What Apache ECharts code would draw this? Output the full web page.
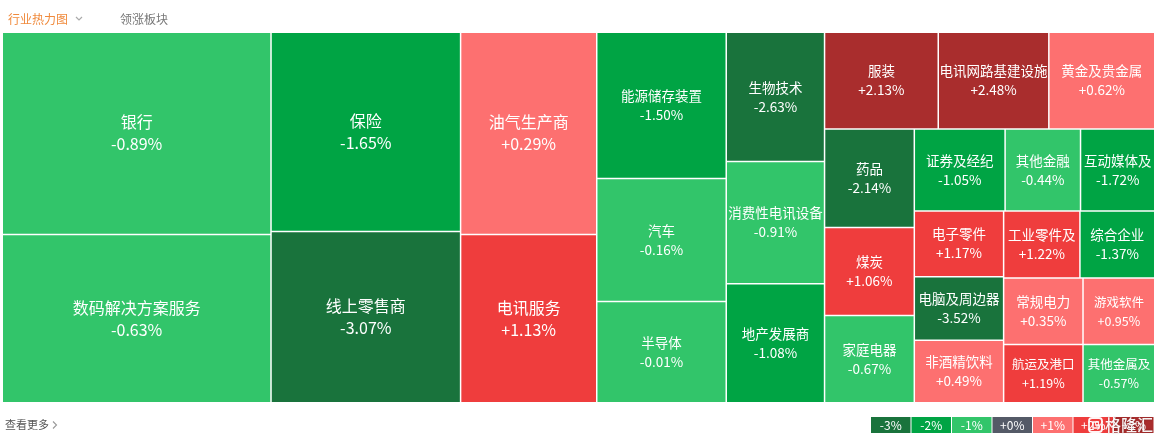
<!DOCTYPE html>
<html>
<head>
<meta charset="utf-8">
<script src="https://cdn.jsdelivr.net/npm/echarts@6/dist/echarts.min.js"></script>
<style>
html,body{margin:0;padding:0;background:#fff;}
#main{width:1161px;height:444px;}
</style>
</head>
<body>
<div id="main"></div>
<script>
// ---- data ----
const names = ['银行','数码解决方案服务','保险','线上零售商','油气生产商','电讯服务',
  '能源储存装置','汽车','半导体','生物技术','消费性电讯设备','地产发展商',
  '服装','电讯网路基建设施','黄金及贵金属','药品','煤炭','家庭电器',
  '证券及经纪','其他金融','互动媒体及','电子零件','电脑及周边器','非酒精饮料',
  '工业零件及','综合企业','常规电力','航运及港口','游戏软件','其他金属及'];
const changes = [-0.89,-0.63,-1.65,-3.07,0.29,1.13,
  -1.50,-0.16,-0.01,-2.63,-0.91,-1.08,
  2.13,2.48,0.62,-2.14,1.06,-0.67,
  -1.05,-0.44,-1.72,1.17,-3.52,0.49,
  1.22,-1.37,0.35,1.19,0.95,-0.57];
const sizes = [54100,45000,37600,32300,27400,22800,
  18850,15850,13050,12650,11950,11650,
  10950,10650,10200,8800,7850,7800,
  7400,6150,6050,5850,5650,5550,
  5100,5000,5250,4600,4750,4150];
const legendLabels = ['-3%','-2%','-1%','+0%','+1%','+2%','+3%'];
const legendColors = ['#19733c','#00a444','#32c56a','#545a67','#fd7070','#ef3d3d','#a92d2d'];

function colorOf(c){
  if (c <= -2) return legendColors[0];
  if (c <= -1) return legendColors[1];
  if (c < 0) return legendColors[2];
  if (c === 0) return legendColors[3];
  if (c < 1) return legendColors[4];
  if (c < 2) return legendColors[5];
  return legendColors[6];
}
function fmt(c){ return (c > 0 ? '+' : (c < 0 ? '-' : '+')) + Math.abs(c).toFixed(2) + '%'; }

const FONT = '"Noto Sans CJK SC", "Noto Sans", sans-serif';
const data = names.map(function(n, i){
  const big = sizes[i] > 20000;
  const tiny = sizes[i] < 4800;
  return {
    name: n,
    value: sizes[i],
    change: changes[i],
    itemStyle: { color: colorOf(changes[i]) },
    label: { fontSize: big ? 16 : (tiny ? 12.5 : 13.5), lineHeight: big ? 22 : 19 }
  };
});

const chart = echarts.init(document.getElementById('main'), null, {renderer: 'canvas'});

const graphics = [
  { type: 'text', x: 8, y: 19, style: { text: '行业热力图', fill: '#f08a3c', font: '12px ' + FONT, verticalAlign: 'middle' } },
  { type: 'polyline', shape: { points: [[76,17],[79,20],[82,17]] }, style: { stroke: '#aaa', lineWidth: 1.2, fill: null } },
  { type: 'text', x: 120, y: 19, style: { text: '领涨板块', fill: '#777', font: '12px ' + FONT, verticalAlign: 'middle' } },
  { type: 'text', x: 5, y: 425, style: { text: '查看更多', fill: '#555', font: '11px ' + FONT, verticalAlign: 'middle' } },
  { type: 'polyline', shape: { points: [[53,421.5],[56.5,425],[53,428.5]] }, style: { stroke: '#999', lineWidth: 1.1, fill: null } }
];
legendLabels.forEach(function(t, i){
  const x = 871 + i * 40.5;
  graphics.push({ type: 'rect', shape: { x: x, y: 417, width: 39.5, height: 16 }, style: { fill: legendColors[i] } });
  graphics.push({ type: 'text', x: x + 19.75, y: 425, style: { text: t, fill: '#fff', font: '12px ' + FONT, align: 'center', verticalAlign: 'middle' } });
});
// watermark
graphics.push({ type: 'rect', shape: { x: 1089, y: 418, width: 13, height: 14, r: 3 }, style: { fill: null, stroke: 'rgba(255,255,255,0.95)', lineWidth: 1.8 } });
graphics.push({ type: 'polyline', shape: { points: [[1099,422],[1093,422],[1093,428],[1099,428],[1099,425],[1096,425]] }, style: { fill: null, stroke: 'rgba(255,255,255,0.95)', lineWidth: 1.5 } });
graphics.push({ type: 'text', x: 1105, y: 425, style: { text: '格隆汇', fill: 'rgba(255,255,255,0.95)', font: '500 16px ' + FONT, verticalAlign: 'middle', textShadowColor: 'rgba(0,0,0,0.3)', textShadowBlur: 2 } });

chart.setOption({
  backgroundColor: '#fff',
  animation: false,
  graphic: graphics,
  series: [{
    type: 'treemap',
    left: 3, top: 33, width: 1151, height: 369,
    roam: false,
    nodeClick: false,
    sort: false,
    squareRatio: 1,
    breadcrumb: { show: false },
    itemStyle: { borderWidth: 0, gapWidth: 1, borderColor: '#fff' },
    levels: [
      { itemStyle: { borderWidth: 0, gapWidth: 1.5, borderColor: '#fff' } },
      { itemStyle: { borderWidth: 0, gapWidth: 0 } }
    ],
    label: {
      show: true,
      position: 'inside',
      color: '#fff',
      fontFamily: FONT,
      padding: 0,
      overflow: 'none',
      align: 'center',
      verticalAlign: 'middle',
      formatter: function(p){ return p.name + '\n' + fmt(p.data.change); }
    },
    upperLabel: { show: false },
    data: data
  }]
});
</script>
</body>
</html>
